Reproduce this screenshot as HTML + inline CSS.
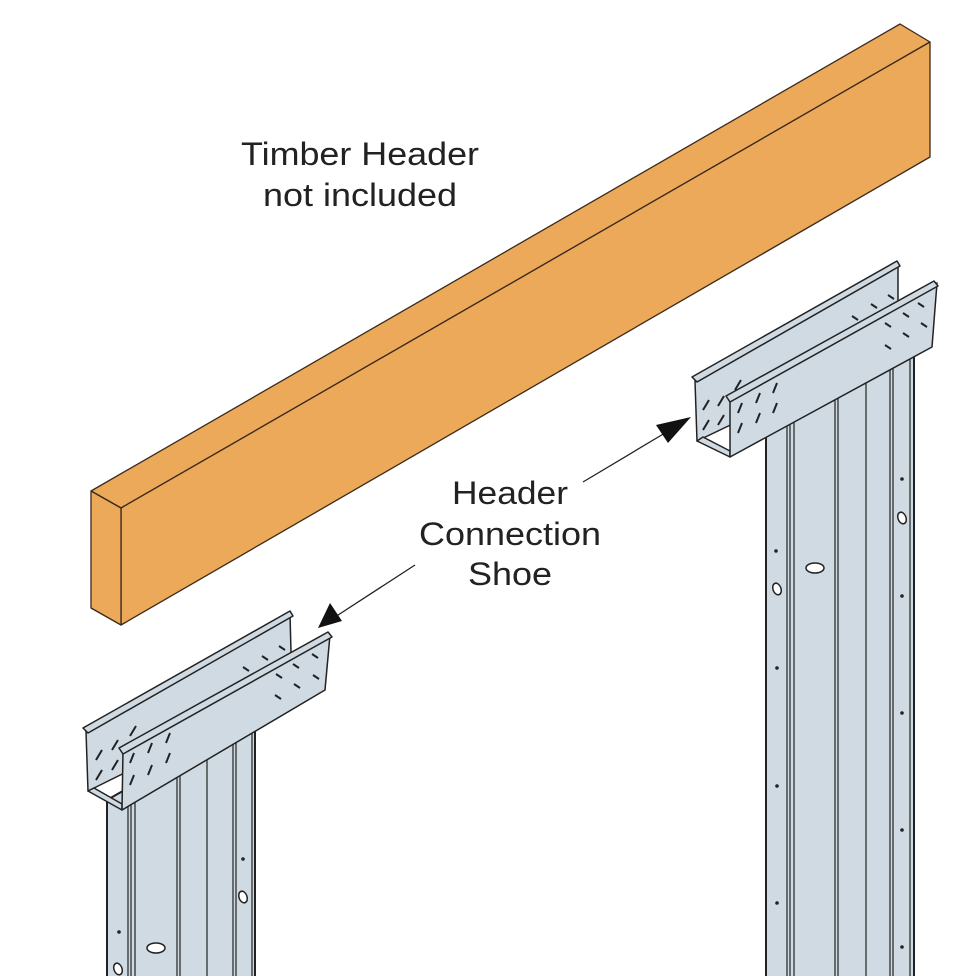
<!DOCTYPE html>
<html><head><meta charset="utf-8"><style>html,body{margin:0;padding:0;background:#fff}svg{display:block}</style></head>
<body>
<svg width="954" height="976" viewBox="0 0 954 976" xmlns="http://www.w3.org/2000/svg" font-family="Liberation Sans, sans-serif">
<!-- beam -->
<g stroke="#3a2a1a" stroke-width="1.3" stroke-linejoin="round" fill="#eca95a">
<polygon points="91,491 900,24 930,42 121,508"/>
<polygon points="121,508 930,42 930,157 121,625"/>
<polygon points="91,491 121,508 121,625 91,608"/>
</g>
<g fill="#222" font-size="32" text-anchor="middle">
<text x="360" y="165" textLength="238" lengthAdjust="spacingAndGlyphs">Timber Header</text>
<text x="360" y="206" textLength="194" lengthAdjust="spacingAndGlyphs">not included</text>
<text x="510" y="504" textLength="116" lengthAdjust="spacingAndGlyphs">Header</text>
<text x="510" y="545" textLength="182" lengthAdjust="spacingAndGlyphs">Connection</text>
<text x="510" y="585" textLength="84" lengthAdjust="spacingAndGlyphs">Shoe</text>
</g>
<!-- arrows -->
<g stroke="#222" stroke-width="1.3"><line x1="583" y1="482" x2="670" y2="430"/><line x1="415" y1="565" x2="335" y2="617"/></g>
<polygon points="691,417 656,425 668,443" fill="#111"/>
<polygon points="318,628 330,603 342,621" fill="#111"/>

<!-- right post -->
<g stroke="#222" fill="none">
<polygon points="766,430 914,348 914,980 766,980" fill="#cfdae3" stroke-width="2"/>
<g stroke-width="1.2"><line x1="787" y1="400" x2="787" y2="976"/><line x1="790" y1="400" x2="790" y2="976"/><line x1="794" y1="400" x2="794" y2="976"/><line x1="835" y1="380" x2="835" y2="976"/><line x1="838" y1="380" x2="838" y2="976"/><line x1="866" y1="370" x2="866" y2="976"/><line x1="890" y1="360" x2="890" y2="976"/><line x1="893" y1="360" x2="893" y2="976"/><line x1="910" y1="350" x2="910" y2="976"/></g>
</g>
<g fill="#fff" stroke="#222" stroke-width="1.5">
<ellipse cx="815" cy="568" rx="9" ry="5"/><ellipse cx="777" cy="589" rx="4" ry="6" transform="rotate(-20 777 589)"/><ellipse cx="902" cy="518" rx="4" ry="6" transform="rotate(-20 902 518)"/>
</g>
<g fill="#222"><circle cx="776" cy="551" r="1.8"/><circle cx="902" cy="479" r="1.8"/><circle cx="902" cy="596" r="1.8"/><circle cx="777" cy="668" r="1.8"/><circle cx="902" cy="713" r="1.8"/><circle cx="777" cy="786" r="1.8"/><circle cx="902" cy="830" r="1.8"/><circle cx="777" cy="903" r="1.8"/><circle cx="902" cy="947" r="1.8"/></g>
<!-- right shoe -->
<g stroke="#222" stroke-width="1.5" stroke-linejoin="round" fill="#cfdae3">
<polygon points="695,381 898,265 898,345 697,441"/>
<polygon points="692,377 897,261 900,266 697,382"/>
<polygon points="697,441 730,457 730,451 703,437"/>
<polygon points="730,398 937,283 932,347 730,457"/>
<polygon points="726,396 934,281 938,286 730,402"/>
</g>
<g stroke="#222" stroke-width="2" fill="none">
<path d="M703,410 l6,-10 M703,430 l6,-10 M718,406 l6,-10 M718,425 l6,-10 M735,390 l6,-10 M738,413 l4,-10 M738,433 l4,-10 M756,403 l4,-10 M756,423 l4,-10 M773,393 l4,-10 M773,413 l4,-10"/>
<path d="M852,316 l6,4 M871,304 l6,4 M888,295 l6,4 M885,345 l6,4 M885,323 l6,4 M903,313 l6,4 M903,333 l6,4 M918,303 l6,4 M921,323 l6,4"/>
</g>

<!-- left post -->
<g stroke="#222" fill="none">
<polygon points="107,800 255,716 255,980 107,980" fill="#cfdae3" stroke-width="2"/>
<g stroke-width="1.2"><line x1="128" y1="780" x2="128" y2="976"/><line x1="131" y1="780" x2="131" y2="976"/><line x1="135" y1="780" x2="135" y2="976"/><line x1="177" y1="760" x2="177" y2="976"/><line x1="180" y1="760" x2="180" y2="976"/><line x1="207" y1="745" x2="207" y2="976"/><line x1="233" y1="730" x2="233" y2="976"/><line x1="236" y1="730" x2="236" y2="976"/><line x1="252" y1="720" x2="252" y2="976"/></g>
</g>
<g fill="#fff" stroke="#222" stroke-width="1.5">
<ellipse cx="156" cy="948" rx="9" ry="5"/><ellipse cx="243" cy="897" rx="4" ry="6" transform="rotate(-20 243 897)"/><ellipse cx="118" cy="969" rx="4" ry="6" transform="rotate(-20 118 969)"/>
</g>
<g fill="#222"><circle cx="243" cy="859" r="1.8"/><circle cx="119" cy="932" r="1.8"/></g>
<!-- left shoe -->
<g stroke="#222" stroke-width="1.5" stroke-linejoin="round" fill="#cfdae3">
<polygon points="86,731 290,614 292,690 88,791"/>
<polygon points="83,728 290,611 293,616 88,733"/>
<polygon points="88,791 122,810 122,804 94,788"/>
<polygon points="123,750 330,635 325,690 122,810"/>
<polygon points="119,748 328,632 332,637 123,754"/>
</g>
<g stroke="#222" stroke-width="2" fill="none">
<path d="M96,760 l6,-10 M96,780 l6,-10 M112,750 l6,-10 M112,770 l6,-10 M130,736 l6,-10 M130,763 l4,-10 M130,785 l4,-10 M148,753 l4,-10 M148,775 l4,-10 M166,743 l4,-10 M166,763 l4,-10"/>
<path d="M243,667 l6,4 M262,656 l6,4 M279,646 l6,4 M275,695 l6,4 M276,674 l6,4 M293,664 l6,4 M294,684 l6,4 M312,654 l6,4 M313,675 l6,4"/>
</g>
</svg>
</body></html>
